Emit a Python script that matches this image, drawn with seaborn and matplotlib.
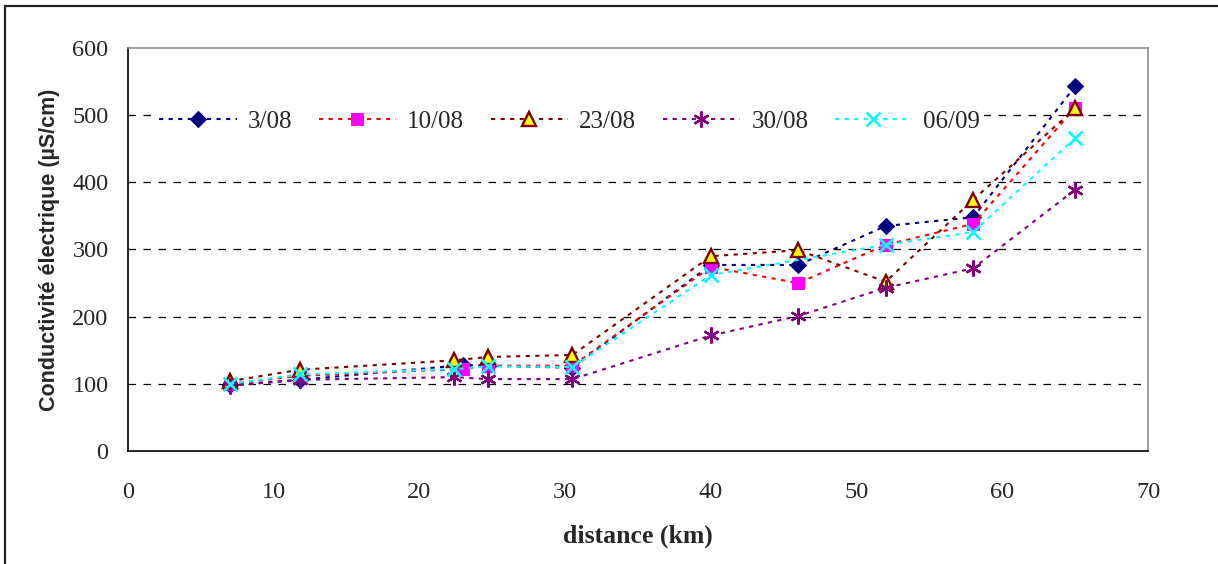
import matplotlib
matplotlib.use("Agg")
import matplotlib.pyplot as plt
import seaborn as sns
from matplotlib.patches import Rectangle

# distances (km) and conductivity (uS/cm) per sampling date
x_0308 = [7, 11.8, 23, 24.7, 30.5, 40, 46, 52, 58, 65]
y_0308 = [98, 106, 128, 127, 124, 277, 277, 335, 348, 543]

x_1008 = [7, 11.8, 23, 24.7, 30.5, 40, 46, 52, 58, 65]
y_1008 = [100, 112, 122, 127, 127, 274, 250, 307, 338, 511]

x_2308 = [7, 11.8, 22.4, 24.7, 30.5, 40, 46, 52, 58, 65]
y_2308 = [104, 121, 135, 140, 143, 290, 299, 252, 374, 510]

x_3008 = [7, 11.8, 22.4, 24.7, 30.5, 40, 46, 52, 58, 65]
y_3008 = [97, 106, 110, 107, 107, 172, 201, 243, 272, 389]

x_0609 = [7, 11.8, 22.4, 24.7, 30.5, 40, 52, 58, 65]
y_0609 = [100, 114, 122, 126, 125, 262, 307, 326, 466]

x_ticks = [0, 10, 20, 30, 40, 50, 60, 70]
y_ticks = [0, 100, 200, 300, 400, 500, 600]

SERIF = "Liberation Serif"
SANS = "Liberation Sans"


def main():
    sns.set_style("white")
    plt.rcParams["font.family"] = [SERIF, "DejaVu Serif"]

    fig = plt.figure(figsize=(12.18, 5.64), dpi=100)
    ax = fig.add_axes([128 / 1218, 1 - 451 / 564, 1020 / 1218, 403 / 564])

    dots = (0, (2, 2.6))
    series = [
        (x_0308, y_0308, "3/08", dict(color="#000080", marker="D", markersize=8,
                                      markerfacecolor="#000080", markeredgecolor="#000080")),
        (x_1008, y_1008, "10/08", dict(color="#FF0000", marker="s", markersize=8.5,
                                       markerfacecolor="#FF00FF", markeredgecolor="#FF00FF")),
        (x_2308, y_2308, "23/08", dict(color="#800000", marker="^", markersize=10.5,
                                       markerfacecolor="#FFFF00", markeredgecolor="#800000",
                                       markeredgewidth=1.7)),
        (x_3008, y_3008, "30/08", dict(color="#800080", marker=(6, 2, 0), markersize=11.5,
                                       markerfacecolor="#800080", markeredgecolor="#800080",
                                       markeredgewidth=1.7)),
        (x_0609, y_0609, "06/09", dict(color="#00FFFF", marker="x", markersize=9.5,
                                       markerfacecolor="#00FFFF", markeredgecolor="#00FFFF",
                                       markeredgewidth=1.9)),
    ]
    for xs, ys, label, kw in series:
        sns.lineplot(x=xs, y=ys, ax=ax, label=label, linestyle=dots,
                     linewidth=1.5, **kw)

    ax.set_xlim(0, 70)
    ax.set_ylim(0, 600)
    ax.set_xticks(x_ticks)
    ax.set_yticks(y_ticks)
    ax.tick_params(axis="both", direction="out", length=6, width=1, color="black",
                   labelsize=17.5)
    ax.tick_params(axis="x", pad=16)
    ax.tick_params(axis="y", pad=8)

    for y in y_ticks[1:-1]:
        ax.axhline(y, color="black", linewidth=0.9, linestyle=(0, (6, 6)), zorder=0)

    ax.spines["left"].set_color("black")
    ax.spines["bottom"].set_color("black")
    ax.spines["top"].set_color("#8c8c8c")
    ax.spines["right"].set_color("#8c8c8c")
    for s in ax.spines.values():
        s.set_linewidth(1.2)

    ax.set_xlabel("distance (km)", fontsize=18.5, fontweight="bold", labelpad=16)
    ax.set_ylabel("Conductivité électrique (µS/cm)", fontsize=15.5, fontweight="bold",
                  family=SANS, labelpad=9)

    leg = ax.legend(loc="center", bbox_to_anchor=(0.433, 0.818), ncol=5, fontsize=18,
                    frameon=True, handlelength=3.1, handletextpad=0.45,
                    columnspacing=1.05, borderpad=0.15, fancybox=False)
    leg.get_frame().set_facecolor("white")
    leg.get_frame().set_edgecolor("none")
    leg.get_frame().set_alpha(1)

    # outer chart border (top and left edges visible)
    fig.add_artist(Rectangle((5 / 1218, -1), 2, 1 - 6 / 564 + 1, transform=fig.transFigure,
                             fill=False, edgecolor="#222222", linewidth=1.6))

    fig.savefig("out.png", dpi=100, facecolor="white")


if __name__ == "__main__":
    main()
